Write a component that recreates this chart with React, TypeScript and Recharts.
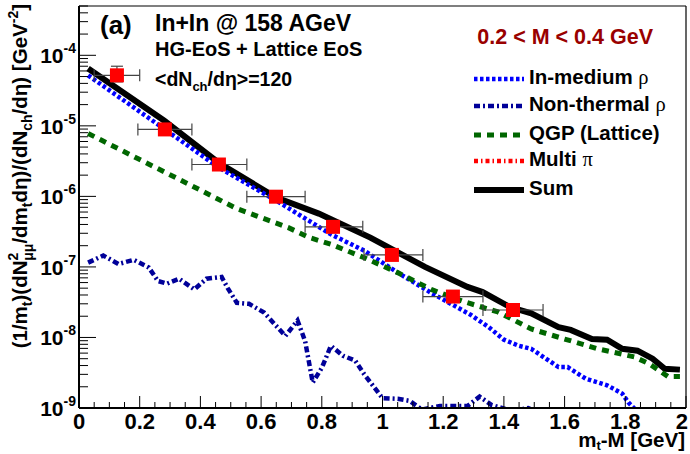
import React from "react";
import { ComposedChart, Line, Scatter, XAxis, YAxis, ErrorBar } from "recharts";

const W = 690;
const H = 454;
const FONT = "'Liberation Sans', Arial, Helvetica, sans-serif";
const SYM = "'Liberation Serif', 'DejaVu Serif', serif";
const PLOT = { left: 79, top: 6, right: 686, bottom: 408 };

const BLUE = "#0000ff";
const NAVY = "#000099";
const GREEN = "#006600";
const RED = "#ff0000";
const DARKRED = "#990000";

// Sum
const sumX = [0.03, 0.28, 0.46, 0.65, 0.79, 0.96, 1.04, 1.14, 1.28, 1.33, 1.42, 1.49, 1.58, 1.62, 1.69, 1.74, 1.79, 1.84, 1.89, 1.93, 1.98];
const sumY = [6.5e-5, 1.19e-5, 3.0e-6, 9.6e-7, 5.7e-7, 2.6e-7, 1.7e-7, 1.0e-7, 5.2e-8, 4.4e-8, 2.7e-8, 2.2e-8, 1.4e-8, 1.28e-8, 9.5e-9, 9.3e-9, 6.9e-9, 6.5e-9, 5.0e-9, 3.6e-9, 3.5e-9];

// In-medium rho
const inMedX = [0.03, 0.28, 0.46, 0.65, 0.83, 0.94, 1.05, 1.16, 1.29, 1.35, 1.4, 1.45, 1.49, 1.58, 1.61, 1.67, 1.74, 1.79, 1.81, 1.85];
const inMedY = [5.2e-5, 9.1e-6, 2.57e-6, 8.7e-7, 2.9e-7, 1.7e-7, 8.3e-8, 4.3e-8, 2.1e-8, 1.4e-8, 9.3e-9, 7.6e-9, 6.9e-9, 3.8e-9, 3.8e-9, 2.6e-9, 2.1e-9, 1.6e-9, 1.2e-9, 0.8e-9];

// QGP (Lattice)
const qgpX = [0.03, 0.19, 0.36, 0.52, 0.69, 0.76, 0.83, 0.94, 1.05, 1.16, 1.27, 1.38, 1.49, 1.6, 1.71, 1.83, 1.88, 1.94, 1.98];
const qgpY = [7.8e-6, 3.5e-6, 1.5e-6, 6.7e-7, 3.6e-7, 2.6e-7, 2.1e-7, 1.35e-7, 8.3e-8, 4.8e-8, 3.2e-8, 2.3e-8, 1.32e-8, 9.5e-9, 6.9e-9, 5.3e-9, 4.2e-9, 2.8e-9, 2.8e-9];

// Non-thermal rho
const nonThX = [0.03, 0.08, 0.13, 0.18, 0.23, 0.26, 0.29, 0.33, 0.38, 0.42, 0.47, 0.49, 0.52, 0.56, 0.61, 0.68, 0.72, 0.745, 0.77, 0.8, 0.83, 0.87, 0.91, 0.94, 1.0, 1.05, 1.09, 1.13, 1.19, 1.25, 1.28, 1.32, 1.36, 1.43, 1.48, 1.53];
const nonThY = [1.15e-7, 1.45e-7, 1.1e-7, 1.26e-7, 9.8e-8, 6.3e-8, 5.8e-8, 6.8e-8, 4.8e-8, 6.8e-8, 7.2e-8, 5.0e-8, 3.1e-8, 3.0e-8, 2.25e-8, 1.05e-8, 1.74e-8, 8.9e-9, 2.3e-9, 3.7e-9, 7.6e-9, 5.5e-9, 4.7e-9, 3.0e-9, 1.38e-9, 1.35e-9, 1.26e-9, 0.95e-9, 1.07e-9, 1.07e-9, 1.07e-9, 1.45e-9, 1.1e-9, 0.9e-9, 1.0e-9, 0.8e-9];

// data points
const measX = [0.125, 0.283, 0.461, 0.649, 0.837, 1.031, 1.232, 1.43];
const measY = [5.2e-5, 8.9e-6, 2.83e-6, 9.9e-7, 3.7e-7, 1.48e-7, 3.8e-8, 2.45e-8];
const binLo = [0.05, 0.194, 0.372, 0.553, 0.745, 0.939, 1.133, 1.331];
const binHi = [0.2, 0.372, 0.553, 0.745, 0.935, 1.133, 1.331, 1.529];
const measYErrUp = [1.8e-5, 0, 0, 0, 0, 0, 0, 0];
const measYErrDn = [1.0e-5, 0, 0, 0, 0, 0, 0, 0];

const xMajorTicks = [0, 0.2, 0.4, 0.6, 0.8, 1, 1.2, 1.4, 1.6, 1.8, 2];
const yDecades = [-9, -8, -7, -6, -5, -4];

const xTicks: number[] = [];
for (let i = 0; i <= 40; i++) xTicks.push(Math.round(i * 5) / 100);
const yTicks: number[] = [];
for (const e of yDecades) {
  for (let m = 1; m <= 9; m++) {
    const v = m * Math.pow(10, e);
    if (v <= 5e-4) yTicks.push(v);
  }
}

const toPts = (xs: number[], ys: number[]) => xs.map((x, i) => ({ x, y: ys[i] }));
const sumData = toPts(sumX, sumY);
const inMedData = toPts(inMedX, inMedY);
const qgpData = toPts(qgpX, qgpY);
const nonThData = toPts(nonThX, nonThY);
const measData = measX.map((x, i) => ({
  x,
  y: measY[i],
  ex: [x - binLo[i], binHi[i] - x],
  ey: [measYErrDn[i], measYErrUp[i]],
}));

const XTick = (p: any) => {
  const v = p.payload.value;
  const major = xMajorTicks.some((t) => Math.abs(t - v) < 1e-6);
  const last = Math.abs(v - 2) < 1e-6;
  return (
    <g>
      <line x1={p.x} x2={p.x} y1={p.y} y2={p.y - (major ? 12 : 6)} stroke="#000" strokeWidth={1} />
      {major && (
        <text
          x={last ? p.x + 2 : p.x}
          y={p.y + 21}
          textAnchor={last ? "end" : "middle"}
          fontFamily={FONT}
          fontWeight="bold"
          fontSize={22}
          fill="#000"
        >
          {String(Math.round(v * 10) / 10)}
        </text>
      )}
    </g>
  );
};

const YTick = (p: any) => {
  const v = p.payload.value;
  const e = Math.round(Math.log10(v));
  const major = Math.abs(v / Math.pow(10, e) - 1) < 1e-6 && yDecades.includes(e);
  return (
    <g>
      <line x1={p.x} x2={p.x + (major ? 17 : 9)} y1={p.y} y2={p.y} stroke="#000" strokeWidth={1} />
      {major && (
        <text x={p.x - 3} y={p.y + 8} textAnchor="end" fontFamily={FONT} fontWeight="bold" fontSize={21} fill="#000">
          10
          <tspan dy={-10} fontSize={14}>{`-${-e}`}</tspan>
        </text>
      )}
    </g>
  );
};

const Square = (p: any) => <rect x={p.cx - 7} y={p.cy - 7} width={14} height={14} fill={RED} />;

const legendRows = [
  { label: "In-medium ", sym: "ρ", color: BLUE, dash: "3.5 2.5", w: 4.5, base: 84 },
  { label: "Non-thermal ", sym: "ρ", color: NAVY, dash: "6 3 2 3", w: 4.5, base: 111 },
  { label: "QGP (Lattice)", sym: "", color: GREEN, dash: "7 6", w: 5, base: 140 },
  { label: "Multi ", sym: "π", color: RED, dash: "4 3 1.5 3", w: 4.5, base: 166 },
  { label: "Sum", sym: "", color: "#000", dash: undefined, w: 6, base: 195 },
];

function Overlay() {
  const t = { fontFamily: FONT, fontWeight: "bold" as const, fill: "#000" };
  return (
    <svg width={W} height={H} style={{ position: "absolute", left: 0, top: 0, pointerEvents: "none" }}>
      <line x1={PLOT.left} x2={PLOT.right} y1={PLOT.top} y2={PLOT.top} stroke="#000" strokeWidth={1.2} />
      <line x1={PLOT.right} x2={PLOT.right} y1={PLOT.top} y2={PLOT.bottom} stroke="#000" strokeWidth={1.2} />

      <text x={100} y={34} fontSize={26} {...t}>(a)</text>
      <text x={155} y={31} fontSize={23} {...t}>In+In @ 158 AGeV</text>
      <text x={155} y={56} fontSize={20} {...t}>HG-EoS + Lattice EoS</text>
      <text x={155} y={86} fontSize={19.5} {...t}>
        {"<dN"}
        <tspan dy={5} fontSize={13}>ch</tspan>
        <tspan dy={-5}>{"/dη>=120"}</tspan>
      </text>
      <text x={653} y={44} textAnchor="end" fontSize={21.5} {...t} fill={DARKRED}>0.2 &lt; M &lt; 0.4 GeV</text>

      {legendRows.map((r) => (
        <g key={r.label}>
          <line x1={474} x2={524} y1={r.base - 5} y2={r.base - 5} stroke={r.color} strokeWidth={r.w} strokeDasharray={r.dash} />
          <text x={529} y={r.base} fontSize={20.5} {...t}>
            {r.label}
            {r.sym && <tspan fontFamily={SYM} fontWeight="normal">{r.sym}</tspan>}
          </text>
        </g>
      ))}

      <text x={685} y={447} textAnchor="end" fontSize={20.5} {...t}>
        m<tspan dy={3} fontSize={13}>t</tspan>
        <tspan dy={-3}>-M [GeV]</tspan>
      </text>

      <text transform="translate(27,4) rotate(-90)" textAnchor="end" fontSize={20.5} {...t}>
        (1/m
        <tspan dy={5} fontSize={14}>t</tspan>
        <tspan dy={-5} fontSize={20.5}>)(dN</tspan>
        <tspan dy={-9} fontSize={14}>2</tspan>
        <tspan dx={-8} dy={15} fontSize={14}>μμ</tspan>
        <tspan dy={-6} fontSize={20.5}>/dm</tspan>
        <tspan dy={5} fontSize={14}>t</tspan>
        <tspan dy={-5} fontSize={20.5}>dη)/(dN</tspan>
        <tspan dy={5} fontSize={14}>ch</tspan>
        <tspan dy={-5} fontSize={20.5}>/dη) [GeV</tspan>
        <tspan dy={-9} fontSize={14}>-2</tspan>
        <tspan dy={9} fontSize={20.5}>]</tspan>
      </text>
    </svg>
  );
}

export default function App() {
  return (
    <div style={{ position: "absolute", left: 0, top: 0, width: W, height: H, background: "#fff" }}>
      <ComposedChart width={W} height={H} margin={{ top: PLOT.top, right: W - PLOT.right, bottom: 0, left: 0 }}>
        <XAxis
          type="number"
          dataKey="x"
          domain={[0, 2]}
          ticks={xTicks}
          interval={0}
          allowDataOverflow
          height={H - PLOT.bottom}
          tickSize={0}
          tickMargin={0}
          tick={<XTick />}
          axisLine={{ stroke: "#000", strokeWidth: 2 }}
        />
        <YAxis
          type="number"
          dataKey="y"
          scale="log"
          domain={[1e-9, 5e-4]}
          ticks={yTicks}
          interval={0}
          allowDataOverflow
          width={PLOT.left}
          tickSize={0}
          tickMargin={0}
          tick={<YTick />}
          axisLine={{ stroke: "#000", strokeWidth: 2 }}
        />
        <Line data={sumData} dataKey="y" type="linear" stroke="#000" strokeWidth={6} dot={false} activeDot={false} isAnimationActive={false} />
        <Line data={inMedData} dataKey="y" type="linear" stroke={BLUE} strokeWidth={4.5} strokeDasharray="3.5 2.5" dot={false} activeDot={false} isAnimationActive={false} />
        <Line data={nonThData} dataKey="y" type="linear" stroke={NAVY} strokeWidth={4.5} strokeDasharray="6 3 2 3" dot={false} activeDot={false} isAnimationActive={false} />
        <Line data={qgpData} dataKey="y" type="linear" stroke={GREEN} strokeWidth={5} strokeDasharray="7 6" dot={false} activeDot={false} isAnimationActive={false} />
        <Scatter data={measData} dataKey="y" shape={Square} isAnimationActive={false}>
          <ErrorBar dataKey="ex" direction="x" width={6} stroke="#444" strokeWidth={1.2} isAnimationActive={false} />
          <ErrorBar dataKey="ey" direction="y" width={6} stroke="#444" strokeWidth={1.2} isAnimationActive={false} />
        </Scatter>
      </ComposedChart>
      <Overlay />
    </div>
  );
}
